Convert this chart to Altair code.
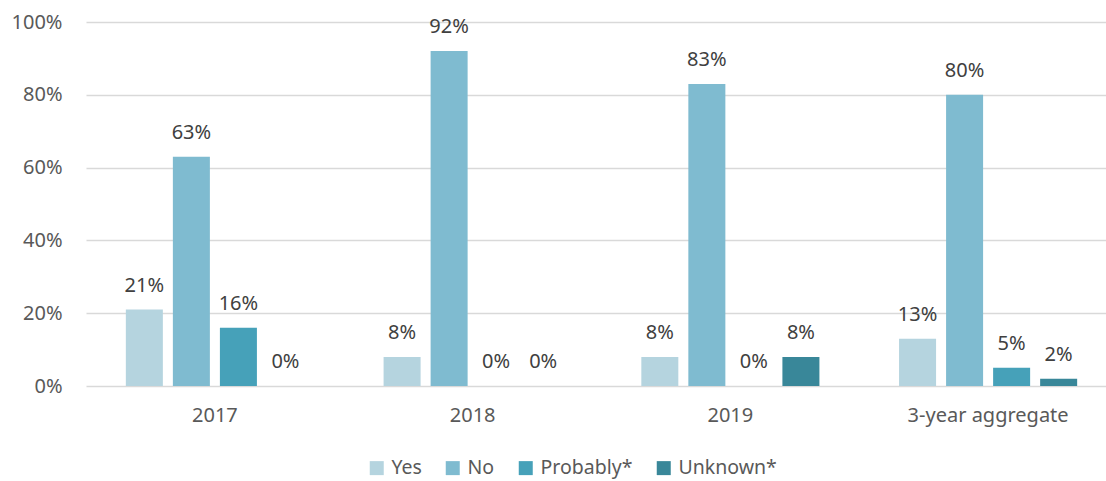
import altair as alt
import pandas as pd

# Survey responses by year, in percent
years = ["2017", "2018", "2019", "3-year aggregate"]
responses = ["Yes", "No", "Probably*", "Unknown*"]
yes_vals = [21, 8, 8, 13]
no_vals = [63, 92, 83, 80]
probably_vals = [16, 0, 0, 5]
unknown_vals = [0, 0, 8, 2]
colors = ["#b5d4df", "#7fbbd0", "#46a1b9", "#398799"]

rows = []
for i, yr in enumerate(years):
    for resp, vals in zip(responses, [yes_vals, no_vals, probably_vals, unknown_vals]):
        rows.append({"year": yr, "response": resp, "value": vals[i],
                     "label": f"{vals[i]}%"})
df = pd.DataFrame(rows)

FONT = "Noto Sans"
TXT = "#595959"
FS = 20

x_scale = alt.Scale(range=[0, 1031], paddingInner=0.309, paddingOuter=0.1546)
off_scale = alt.Scale(paddingInner=0.213, paddingOuter=0)

x_enc = alt.X("year:N", sort=years, title=None, scale=x_scale,
              axis=alt.Axis(labelAngle=0, ticks=False, domain=False, grid=False,
                            labelFontSize=FS, labelColor=TXT, labelFont=FONT,
                            labelPadding=19))
off_enc = alt.XOffset("response:N", sort=responses, scale=off_scale)
y_enc = alt.Y("value:Q", title=None,
              scale=alt.Scale(domain=[0, 100]),
              axis=alt.Axis(values=[0, 20, 40, 60, 80, 100],
                            labelExpr="datum.value + '%'",
                            ticks=False, domain=False,
                            gridColor="#d9d9d9", gridWidth=1.3,
                            labelFontSize=FS, labelColor=TXT, labelFont=FONT,
                            labelPadding=24))

base = alt.Chart(df).encode(x=x_enc, xOffset=off_enc, y=y_enc)

bars = base.mark_bar().encode(
    color=alt.Color("response:N", sort=responses,
                    scale=alt.Scale(domain=responses, range=colors),
                    legend=alt.Legend(title=None, orient="none",
                                      direction="horizontal",
                                      legendX=281, legendY=436,
                                      symbolType="square", symbolSize=196,
                                      symbolStrokeWidth=0, symbolOpacity=1,
                                      labelFontSize=19.5, labelColor=TXT,
                                      labelFont=FONT, columnPadding=21,
                                      labelOffset=5)),
)

labels = base.mark_text(baseline="middle", dy=-24, fontSize=FS,
                        color="#404040", font=FONT).encode(text="label:N")

chart = (bars + labels).properties(
    width=1020, height=364,
    background="white",
    padding={"left": 86, "top": 22, "right": 0, "bottom": 95},
    autosize=alt.AutoSizeParams(type="none"),
).configure_view(stroke="transparent", strokeWidth=0)

chart.save("out.html", embed_options={"renderer": "svg", "actions": False})
